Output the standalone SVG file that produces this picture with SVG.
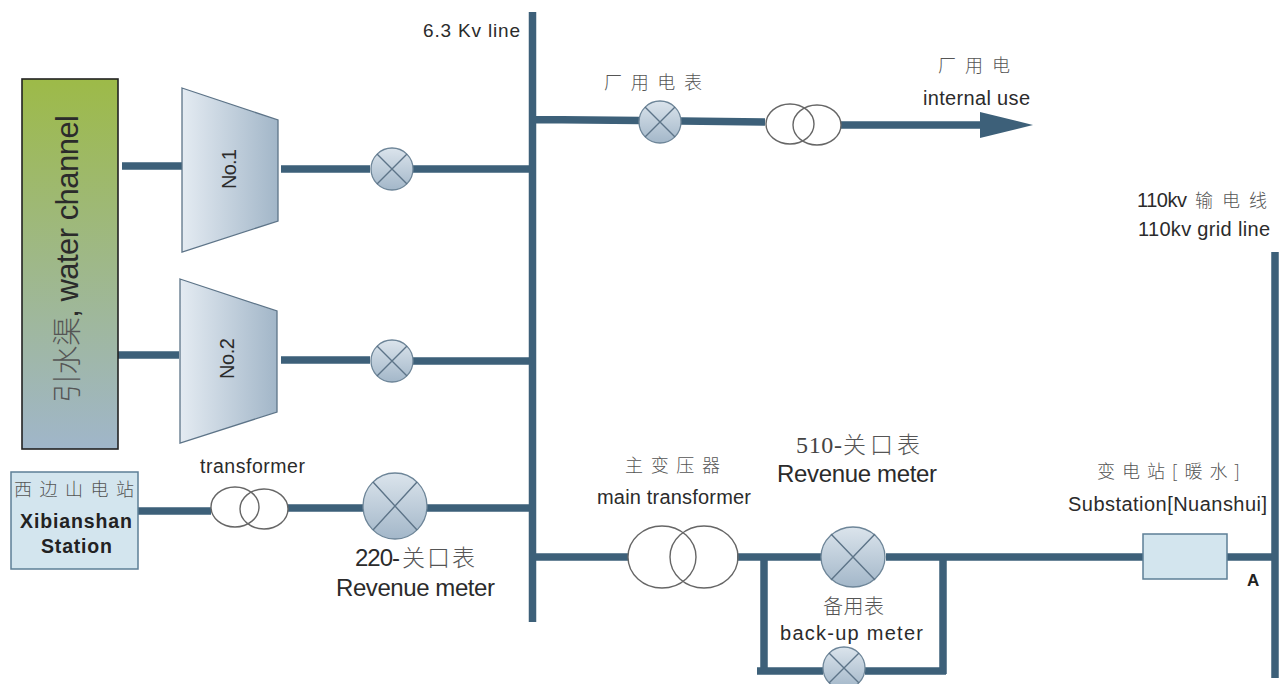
<svg xmlns="http://www.w3.org/2000/svg" width="1284" height="684" viewBox="0 0 1284 684">
<style>
text{font-family:"Liberation Sans","Noto Sans CJK SC",sans-serif;fill:#2b2b2b;font-size:20px}
.zh{font-family:"Noto Sans CJK SC","Liberation Serif",serif;fill:#555;font-weight:300;font-size:18px}
.ser{font-family:"Liberation Serif",serif;fill:#444;font-size:24px}
.b{font-weight:700;fill:#222;font-size:19.500px}
.w{fill:none;stroke:#3d6079;stroke-width:7.500;stroke-linecap:butt}
.t{fill:none;stroke:#666;stroke-width:1.400}
.m{fill:url(#mg);stroke:#6d8598;stroke-width:1.300}
.x{stroke:#5d7488;stroke-width:1.400;fill:none}
</style>
<defs>
<linearGradient id="ch" x1="0" y1="0" x2="0" y2="1"><stop offset="0" stop-color="#9dba48"/><stop offset="1" stop-color="#a0b6ca"/></linearGradient>
<linearGradient id="tr" x1="0" y1="0" x2="1" y2="0"><stop offset="0" stop-color="#e4ebf2"/><stop offset="1" stop-color="#a2b6c8"/></linearGradient>
<linearGradient id="mg" x1="0" y1="0" x2="0" y2="1"><stop offset="0" stop-color="#dbe4ec"/><stop offset="1" stop-color="#a3b7c9"/></linearGradient>
</defs>
<rect width="1284" height="684" fill="#fff"/>
<g id="connectors">
<path class="w" d="M122 166H185M117 355H179M281 169H370M413 169H529M281 360H370M413 361H529M138 511H211M288 508H363M427 508H529"/>
<path class="w" d="M532.500 12V622M1275 252V678M536 119.500L640 120.500M681 121L765 122M841 125H985M532 557H628M737 557H821M886 557H1143M1227 557H1272M764 557V674M943 557V674M757 671H823M865 671H946"/>
<polygon points="980,112 1033,125 980,138" fill="#3d6079"/>
</g>
<g id="water-channel"><rect x="22" y="79" width="96" height="370" fill="url(#ch)" stroke="#222" stroke-width="1.600"/>
<text transform="translate(78,403) rotate(-90)" style="font-size:31px" textLength="288"><tspan class="zh" style="font-size:29px">引水渠</tspan>, water channel</text></g>
<g id="unit-1"><polygon points="182,88 278,120 278,221 182,252" fill="url(#tr)" stroke="#5d7488" stroke-width="1.300"/><text transform="translate(236,189) rotate(-90)" textLength="40">No.1</text></g>
<g id="unit-2"><polygon points="180,279 277,311 277,412 180,443" fill="url(#tr)" stroke="#5d7488" stroke-width="1.300"/><text transform="translate(234,379) rotate(-90)" textLength="41">No.2</text></g>
<g id="meter-1"><circle class="m" cx="392" cy="169" r="21"/><path class="x" d="M377 154L407 184M407 154L377 184"/></g>
<g id="meter-2"><circle class="m" cx="392" cy="361" r="21"/><path class="x" d="M377 346L407 376M407 346L377 376"/></g>
<g id="xibianshan"><rect x="11" y="472" width="127" height="97" fill="#d3e5ee" stroke="#5d7f96" stroke-width="1.500"/>
<text class="zh" x="14" y="496" textLength="120">西边山电站</text>
<text class="b" x="20" y="528" textLength="112">Xibianshan</text><text class="b" x="41" y="553" textLength="71">Station</text></g>
<g id="transformer-1"><ellipse class="t" cx="235" cy="507" rx="24" ry="20"/><ellipse class="t" cx="264" cy="509" rx="24" ry="20"/>
<text x="200" y="473" textLength="105" style="font-size:19.500px">transformer</text></g>
<g id="meter-220"><ellipse class="m" cx="395" cy="506" rx="32" ry="33"/><path class="x" d="M373 482L417 530M417 482L373 530"/>
<text x="355" y="566" style="font-size:24px" textLength="45">220-</text><text class="zh" x="402" y="566" style="font-size:23px" textLength="73">关口表</text>
<text x="336" y="596" style="font-size:24px" textLength="159">Revenue meter</text></g>
<g id="bus-label"><text x="423" y="37" style="font-size:19px" textLength="97">6.3 Kv line</text></g>
<g id="plant-meter"><ellipse class="m" cx="660" cy="122" rx="21" ry="21"/><path class="x" d="M645 107L675 137M675 107L645 137"/>
<text class="zh" x="604" y="89" textLength="98">厂用电表</text></g>
<g id="plant-transformer"><ellipse class="t" cx="790" cy="124" rx="24" ry="20"/><ellipse class="t" cx="817" cy="125" rx="24" ry="20"/></g>
<g id="internal-use"><text class="zh" x="938" y="72" textLength="72">厂用电</text><text x="923" y="105" textLength="107">internal use</text></g>
<g id="main-transformer"><ellipse class="t" cx="662" cy="557" rx="34" ry="31"/><ellipse class="t" cx="704" cy="557" rx="34" ry="31"/>
<text class="zh" x="625" y="472" textLength="95">主变压器</text><text x="597" y="504" textLength="154">main transformer</text></g>
<g id="meter-510"><ellipse class="m" cx="853" cy="557" rx="32" ry="30"/><path class="x" d="M831 534L875 580M875 534L831 580"/>
<text class="ser" x="796" y="453" textLength="46">510-</text><text class="zh" x="843" y="453" style="font-size:23px" textLength="77">关口表</text>
<text x="777" y="482" style="font-size:24px" textLength="160">Revenue meter</text></g>
<g id="backup-meter"><circle class="m" cx="844" cy="668" r="21"/><path class="x" d="M829 653L859 683M859 653L829 683"/>
<text class="zh" x="823" y="614" style="font-size:20px" textLength="61">备用表</text><text x="780" y="640" textLength="143">back-up  meter</text></g>
<g id="substation"><rect x="1143" y="534" width="84" height="45" fill="#d3e5ee" stroke="#5d7f96" stroke-width="1.500"/>
<text class="zh" x="1097" y="478" textLength="143">变电站[暖水]</text><text x="1068" y="511" textLength="199">Substation[Nuanshui]</text></g>
<g id="grid-line"><text x="1137" y="207" textLength="50">110kv</text><text class="zh" x="1195" y="207" textLength="72">输电线</text><text x="1138" y="236" textLength="132">110kv grid line</text>
<text class="b" x="1247" y="586" style="font-size:17px">A</text></g>
</svg>
